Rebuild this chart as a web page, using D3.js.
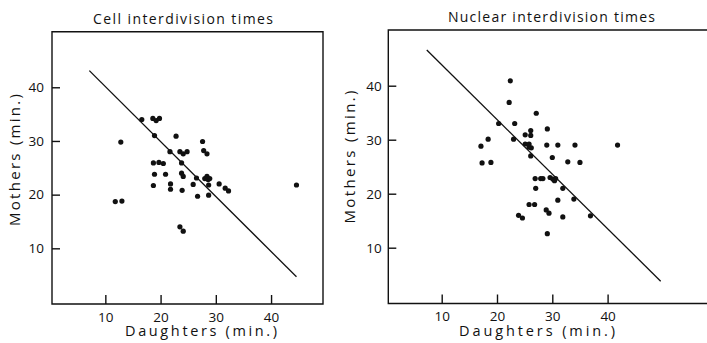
<!DOCTYPE html>
<html>
<head>
<meta charset="utf-8">
<script src="https://cdnjs.cloudflare.com/ajax/libs/d3/7.8.5/d3.min.js"></script>
<style>
    body { margin: 0; background: #fff; }
    svg { display: block; font-family: 'Open Sans', sans-serif; }
</style>
</head>
<body>
<svg id="chart" width="707" height="343"></svg>
<script>
const tickValues = [10, 20, 30, 40];

// cell interdivision times (min.)
const cellDaughters = [11.8, 13.0, 12.8, 16.6, 18.6, 19.2, 19.8, 18.9, 22.8, 27.6, 21.7, 23.5, 24.1, 24.8,
    27.8, 28.4, 18.7, 19.7, 20.5, 23.8, 18.9, 20.9, 23.8, 24.1, 26.5, 28.0, 28.6, 28.4, 28.9, 28.7,
    18.7, 21.8, 21.8, 23.9, 25.9, 30.6, 31.7, 32.3, 26.7, 28.7, 23.5, 24.1, 44.6];
const cellMothers = [18.7, 18.8, 29.8, 34.0, 34.2, 33.8, 34.2, 31.0, 30.9, 29.9, 28.0, 28.0, 27.6, 28.0,
    28.2, 27.6, 25.9, 26.0, 25.8, 25.9, 23.8, 23.8, 24.0, 23.4, 23.1, 23.0, 22.8, 23.4, 23.0, 21.8,
    21.7, 22.0, 21.0, 20.8, 21.9, 22.0, 21.2, 20.7, 19.7, 19.9, 14.0, 13.2, 21.8];
const cellFitX = [7.1, 44.6];
const cellFitY = [43.1, 4.7];

// nuclear interdivision times (min.)
const nucDaughters = [17.1, 17.3, 18.4, 18.9, 20.3, 22.4, 22.2, 23.2, 23.0, 25.1, 26.1, 26.1, 25.1, 25.8,
    26.2, 25.8, 26.1, 27.1, 29.1, 29.0, 31.0, 30.0, 34.1, 32.8, 35.0, 41.8, 26.9, 27.9, 28.3, 29.6,
    30.1, 30.6, 30.4, 27.0, 31.9, 31.0, 33.9, 36.9, 25.8, 26.8, 23.9, 24.6, 28.9, 29.4, 31.9, 29.1];
const nucMothers = [28.8, 25.7, 30.1, 25.8, 33.0, 40.9, 36.9, 33.0, 30.1, 30.9, 31.7, 30.8, 29.2, 28.6,
    28.5, 29.2, 27.0, 34.9, 32.0, 29.0, 29.0, 26.7, 29.0, 25.9, 25.8, 29.0, 22.8, 22.8, 22.8, 23.0,
    22.7, 22.8, 22.4, 21.0, 21.0, 18.8, 19.0, 15.9, 18.0, 18.0, 16.0, 15.5, 17.0, 16.4, 15.7, 12.6];
const nucFitX = [7.3, 49.6];
const nucFitY = [46.6, 3.8];

const panels = [
    {
        title: 'Cell interdivision times',
        xs: cellDaughters, ys: cellMothers, fitX: cellFitX, fitY: cellFitY,
        frame: { left: 52, top: 31.7, right: 323, bottom: 304, closed: true },
        xRange: [50.1, 326.3], yRange: [302, 33.6],
        titleX: 183, titleY: 23.5, titleLen: 180,
        xLabelX: 201, xLabelLen: 152,
        yLabelX: 20, yLabelY: 160, yLabelLen: 132,
        yPad: 8
    },
    {
        title: 'Nuclear interdivision times',
        xs: nucDaughters, ys: nucMothers, fitX: nucFitX, fitY: nucFitY,
        frame: { left: 388.3, top: 30, right: 710, bottom: 303.5, closed: false },
        xRange: [386.4, 662.9], yRange: [301.7, 31.7],
        titleX: 551.5, titleY: 22, titleLen: 207,
        xLabelX: 537, xLabelLen: 156,
        yLabelX: 355, yLabelY: 157, yLabelLen: 133,
        yPad: 6.5
    }
];

const svg = d3.select('#chart');
const ink = '#111';

panels.forEach(p => {
    const x = d3.scaleLinear().domain([0, 50]).range(p.xRange);
    const y = d3.scaleLinear().domain([0, 50]).range(p.yRange);
    const g = svg.append('g');
    const f = p.frame;

    // frame (right panel is open on the right)
    const framePath = p.frame.closed ?
        `M${f.left},${f.top}H${f.right}V${f.bottom}H${f.left}Z` :
        `M${f.right},${f.top}H${f.left}V${f.bottom}H${f.right}`;
    g.append('path')
        .attr('d', framePath)
        .attr('fill', 'none')
        .attr('stroke', ink)
        .attr('stroke-width', 1.4);

    const xAxis = g.append('g')
        .attr('transform', `translate(0,${f.bottom})`)
        .call(d3.axisBottom(x).tickValues(tickValues).tickSize(-9).tickPadding(8));
    const yAxis = g.append('g')
        .attr('transform', `translate(${f.left},0)`)
        .call(d3.axisLeft(y).tickValues(tickValues).tickSize(-8).tickPadding(p.yPad));

    [xAxis, yAxis].forEach(a => {
        a.select('.domain').remove();
        a.attr('font-family', null).attr('font-size', null);
        a.selectAll('line').attr('stroke', ink).attr('stroke-width', 1.4);
        a.selectAll('text').attr('fill', ink).style('font-size', '13.5px');
    });

    // fitted line
    g.append('line')
        .attr('x1', x(p.fitX[0]))
        .attr('y1', y(p.fitY[0]))
        .attr('x2', x(p.fitX[1]))
        .attr('y2', y(p.fitY[1]))
        .attr('stroke', ink)
        .attr('stroke-width', 1.3);

    g.selectAll('circle')
        .data(p.xs.map((d, i) => [d, p.ys[i]]))
        .enter()
        .append('circle')
        .attr('cx', d => x(d[0]))
        .attr('cy', d => y(d[1]))
        .attr('r', 2.6)
        .attr('fill', ink);

    g.append('text')
        .attr('x', p.titleX)
        .attr('y', p.titleY)
        .attr('text-anchor', 'middle')
        .attr('textLength', p.titleLen)
        .attr('lengthAdjust', 'spacing')
        .style('font-size', '14px')
        .attr('fill', ink)
        .text(p.title);

    g.append('text')
        .attr('x', p.xLabelX)
        .attr('y', 336)
        .attr('text-anchor', 'middle')
        .attr('textLength', p.xLabelLen)
        .attr('lengthAdjust', 'spacing')
        .style('font-size', '14.5px')
        .attr('fill', ink)
        .text('Daughters (min.)');

    g.append('text')
        .attr('transform', `translate(${p.yLabelX},${p.yLabelY}) rotate(-90)`)
        .attr('text-anchor', 'middle')
        .attr('textLength', p.yLabelLen)
        .attr('lengthAdjust', 'spacing')
        .style('font-size', '15px')
        .attr('fill', ink)
        .text('Mothers (min.)');
});
</script>
</body>
</html>
